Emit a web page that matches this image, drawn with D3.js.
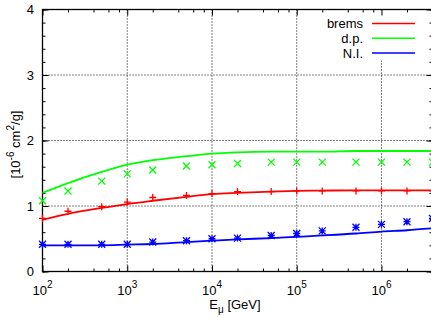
<!DOCTYPE html>
<html>
<head>
<meta charset="utf-8">
<script src="https://cdn.jsdelivr.net/npm/d3@7"></script>
<style>
  body { margin: 0; background: #fff; }
  text { font-family: "Liberation Sans", Arial, sans-serif; fill: #000; }
</style>
</head>
<body>
<div id="chart"></div>
<script>
// muon energy loss coefficients, 1e-6 cm^2/g
const energies = [100, 200, 500, 1e3, 2e3, 5e3, 1e4, 2e4, 5e4, 1e5, 2e5, 5e5, 1e6, 2e6, 4e6];
const bremsCurve = [0.79, 0.88, 0.97, 1.03, 1.08, 1.14, 1.18, 1.20, 1.22, 1.23, 1.235, 1.24, 1.24, 1.24, 1.24];
const dpCurve    = [1.20, 1.35, 1.52, 1.63, 1.70, 1.76, 1.80, 1.82, 1.83, 1.83, 1.83, 1.84, 1.84, 1.84, 1.84];
const niCurve    = [0.40, 0.40, 0.40, 0.41, 0.42, 0.45, 0.47, 0.49, 0.51, 0.53, 0.55, 0.58, 0.61, 0.63, 0.66];
const bremsPts   = [0.81, 0.92, 0.99, 1.06, 1.13, 1.16, 1.19, 1.22, 1.22, 1.23, 1.23, 1.23, 1.23, 1.23, 1.23];
const dpPts      = [1.08, 1.23, 1.38, 1.49, 1.55, 1.61, 1.63, 1.65, 1.67, 1.67, 1.67, 1.67, 1.67, 1.67, 1.67];
const niPts      = [0.415, 0.415, 0.415, 0.415, 0.45, 0.47, 0.50, 0.51, 0.55, 0.58, 0.62, 0.675, 0.72, 0.76, 0.81];
const xTicks = [1e2, 1e3, 1e4, 1e5, 1e6];
const xMinor = [2, 4, 6, 8].flatMap(m => [1e2, 1e3, 1e4, 1e5, 1e6].map(d => m * d)).filter(v => v < 4e6);
const yTicks = [0, 1, 2, 3, 4];
const yMinor = d3.range(0, 4.01, 0.2);
const seriesNames = ["brems", "d.p.", "N.I."];
const colors = ["#ff0000", "#00ff00", "#0000ff"];

const W = 431, H = 318;
const pLeft = 42.5, pRight = 432.5, pTop = 9.5, pBottom = 271.5;

const svg = d3.select("#chart").append("svg")
  .attr("width", W).attr("height", H);

const x = d3.scaleLog().domain([100, 4e6]).range([pLeft, pRight]);
const y = d3.scaleLinear().domain([0, 4]).range([pBottom, pTop]);

// grid
const grid = svg.append("g").attr("stroke", "#000").attr("stroke-width", 1)
  .attr("stroke-dasharray", "1,2");
xTicks.slice(1).forEach(v => {
  grid.append("line").attr("x1", x(v)).attr("x2", x(v)).attr("y1", pTop).attr("y2", pBottom);
});
yTicks.slice(1, -1).forEach(v => {
  grid.append("line").attr("x1", pLeft).attr("x2", pRight).attr("y1", y(v)).attr("y2", y(v));
});

// legend box hides the grid behind it
svg.append("rect").attr("x", 316).attr("y", pTop + 1).attr("width", 115).attr("height", 50)
  .attr("fill", "#fff");

// axes, ticks pointing inward on all four sides
function ticks(axis, vals, size, tx, ty) {
  const g = svg.append("g").attr("transform", `translate(${tx},${ty})`)
    .call(axis.tickValues(vals).tickSize(-size).tickSizeOuter(0).tickFormat(""));
  g.select(".domain").remove();
  g.selectAll("line").attr("stroke", "#000").attr("stroke-width", 1);
}
ticks(d3.axisBottom(x), xTicks, 6, 0, pBottom);
ticks(d3.axisBottom(x), xMinor, 3, 0, pBottom);
ticks(d3.axisTop(x), xTicks, 6, 0, pTop);
ticks(d3.axisTop(x), xMinor, 3, 0, pTop);
ticks(d3.axisLeft(y), yTicks, 6, pLeft, 0);
ticks(d3.axisLeft(y), yMinor, 3, pLeft, 0);
ticks(d3.axisRight(y), yTicks, 6, pRight, 0);
ticks(d3.axisRight(y), yMinor, 3, pRight, 0);

svg.append("rect").attr("x", pLeft).attr("y", pTop)
  .attr("width", pRight - pLeft).attr("height", pBottom - pTop)
  .attr("fill", "none").attr("stroke", "#000").attr("stroke-width", 1.3);

// tick labels
svg.append("g").selectAll("text").data(yTicks).join("text")
  .attr("x", 34).attr("y", d => y(d)).attr("dy", "0.36em")
  .attr("text-anchor", "end").attr("font-size", 13)
  .text(d => d);

const xl = svg.append("g").selectAll("text").data(xTicks).join("text")
  .attr("x", d => x(d)).attr("y", 294.5)
  .attr("text-anchor", "middle").attr("font-size", 13);
xl.append("tspan").text("10");
xl.append("tspan").attr("dy", -7).attr("font-size", 10).text(d => Math.round(Math.log10(d)));

// axis titles
const xt = svg.append("text").attr("x", 235).attr("y", 309)
  .attr("text-anchor", "middle").attr("font-size", 13);
xt.append("tspan").text("E");
xt.append("tspan").attr("dy", 4).attr("font-size", 10).text("\u03bc");
xt.append("tspan").attr("dy", -4).text(" [GeV]");

const yt = svg.append("text")
  .attr("transform", `translate(20,${(pTop + pBottom) / 2 + 4}) rotate(-90)`)
  .attr("text-anchor", "middle").attr("font-size", 13);
yt.append("tspan").text("[10");
yt.append("tspan").attr("dy", -6).attr("font-size", 10).text("-6");
yt.append("tspan").attr("dy", 6).text(" cm");
yt.append("tspan").attr("dy", -6).attr("font-size", 10).text("2");
yt.append("tspan").attr("dy", 6).text("/g]");

// curves
const line = d3.line().x(d => x(d[0])).y(d => y(d[1])).curve(d3.curveMonotoneX);
[bremsCurve, dpCurve, niCurve].forEach((c, i) => {
  svg.append("path").datum(energies.map((e, j) => [e, c[j]]))
    .attr("d", line).attr("fill", "none")
    .attr("stroke", colors[i]).attr("stroke-width", 1.8);
});

// point markers: + (brems), x (d.p.), * (N.I.)
const s = 3.5;
const plus = `M${-s},0H${s}M0,${-s}V${s}`;
const cross = `M${-s},${-s}L${s},${s}M${-s},${s}L${s},${-s}`;
const markers = [plus, cross, plus + cross];
[bremsPts, dpPts, niPts].forEach((p, i) => {
  svg.append("g").selectAll("path").data(energies.map((e, j) => [e, p[j]])).join("path")
    .attr("transform", d => `translate(${x(d[0])},${y(d[1])})`)
    .attr("d", markers[i]).attr("fill", "none")
    .attr("stroke", colors[i]).attr("stroke-width", 1.3);
});

// legend
const lg = svg.append("g");
seriesNames.forEach((name, i) => {
  const ly = 23.5 + i * 14.7;
  lg.append("text").attr("x", 363).attr("y", ly).attr("dy", "0.36em")
    .attr("text-anchor", "end").attr("font-size", 13).text(name);
  lg.append("line").attr("x1", 372).attr("x2", 415).attr("y1", ly).attr("y2", ly)
    .attr("stroke", colors[i]).attr("stroke-width", 1.5);
});
</script>
</body>
</html>
